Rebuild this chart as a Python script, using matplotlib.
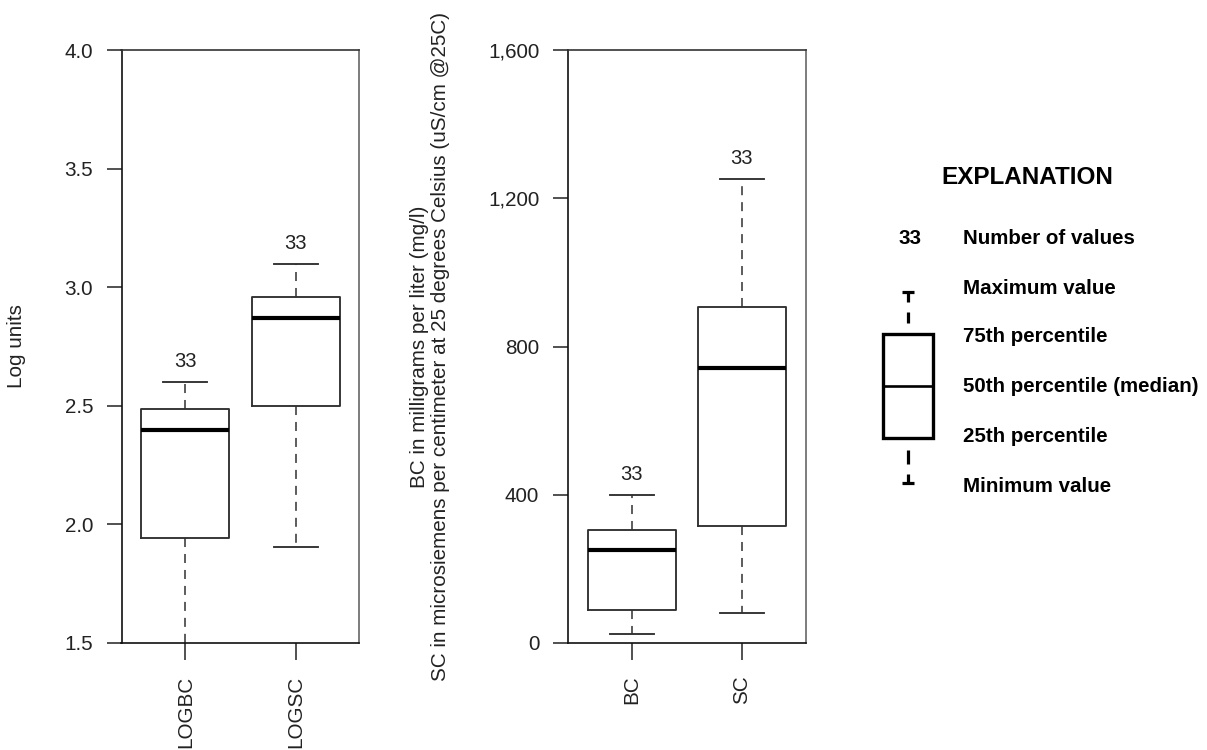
import matplotlib
matplotlib.use('Agg')
import matplotlib.pyplot as plt
from matplotlib.patches import Rectangle
from matplotlib.ticker import FuncFormatter

plt.rcParams['font.family'] = ['Liberation Sans', 'DejaVu Sans']
plt.rcParams['lines.scale_dashes'] = False

# ---------------- data (five-number summaries: min, q1, median, q3, max) ----
log_categories = ['LOGBC', 'LOGSC']
logbc_stats = [1.40, 1.944, 2.398, 2.485, 2.600]
logsc_stats = [1.906, 2.498, 2.869, 2.957, 3.097]
log_counts = [33, 33]
log_yticks = [1.5, 2.0, 2.5, 3.0, 3.5, 4.0]

conc_categories = ['BC', 'SC']
bc_stats = [25, 88, 251, 306, 398]
sc_stats = [81, 316, 742, 906, 1252]
conc_counts = [33, 33]
conc_yticks = [0, 400, 800, 1200, 1600]

legend_count = 33
legend_labels = ['Number of values', 'Maximum value', '75th percentile',
                 '50th percentile (median)', '25th percentile', 'Minimum value']

W, H = 1207, 750
fig = plt.figure(figsize=(W / 100, H / 100), dpi=100)


def to_stats(names, arrays):
    out = []
    for name, a in zip(names, arrays):
        out.append(dict(whislo=a[0], q1=a[1], med=a[2], q3=a[3], whishi=a[4],
                        label=name, fliers=[]))
    return out


FS = 14.9
edge = '#303030'


def panel(rect, names, arrays, counts, yticks, ylim, fmt, ylabel, label_x):
    ax = fig.add_axes(rect)
    stats = to_stats(names, arrays)
    ax.bxp(stats, positions=[1, 2], widths=0.8, capwidths=0.4,
           showfliers=False,
           boxprops=dict(color=edge, linewidth=1.35),
           medianprops=dict(color='black', linewidth=3.0, solid_capstyle='butt'),
           whiskerprops=dict(color=edge, linewidth=1.1, linestyle=(0, (6.5, 5))),
           capprops=dict(color=edge, linewidth=1.35))
    for pos, s, n in zip([1, 2], arrays, counts):
        ax.annotate(str(n), xy=(pos, s[4]), xytext=(0, 10.8),
                    textcoords='offset points', ha='center', va='baseline',
                    fontsize=FS - 0.4, color='#222222')
    ax.set_xlim(0.42, 2.58)
    ax.set_ylim(*ylim)
    ax.set_yticks(yticks)
    ax.yaxis.set_major_formatter(FuncFormatter(fmt))
    ax.set_xticks([1, 2])
    ax.set_xticklabels(names, rotation=90)
    ax.tick_params(axis='y', direction='out', length=11, width=1.1, pad=9.5,
                   labelsize=FS, colors='#222222')
    ax.tick_params(axis='x', direction='out', length=12, width=1.1, pad=11.5,
                   labelsize=FS, colors='#222222')
    ax.spines['left'].set_color('#111111')
    ax.spines['bottom'].set_color('#111111')
    ax.spines['top'].set_color('#333333')
    ax.spines['right'].set_color('#666666')
    for sp in ax.spines.values():
        sp.set_linewidth(1.2)
    ax.set_ylabel(ylabel, fontsize=FS, color='#222222', linespacing=1.12)
    ax.yaxis.set_label_coords(label_x, 0.5)
    return ax


ax_top = 50
ax_bot = 643
rect_h = (ax_bot - ax_top) / H
rect_y = (H - ax_bot) / H

panel([121.5 / W, rect_y, 238 / W, rect_h], log_categories,
      [logbc_stats, logsc_stats], log_counts, log_yticks, (1.5, 4.0),
      lambda v, p: f'{v:.1f}', 'Log units', -0.40)

panel([567.7 / W, rect_y, 238 / W, rect_h], conc_categories,
      [bc_stats, sc_stats], conc_counts, conc_yticks, (0, 1600),
      lambda v, p: f'{int(v):,}',
      'BC in milligrams per liter (mg/l)\n'
      'SC in microsiemens per centimeter at 25 degrees Celsius (uS/cm @25C)',
      -0.494)

# ---------------- explanation (legend) ----------------
lg = fig.add_axes([0, 0, 1, 1])
lg.set_xlim(0, W)
lg.set_ylim(H, 0)
lg.set_axis_off()
lg.patch.set_visible(False)

lg.text(1027, 178, 'EXPLANATION', ha='center', va='center',
        fontsize=17.5, fontweight='bold')
row_y = [239, 288, 337, 387, 437, 486]
for y, lab in zip(row_y, legend_labels):
    lg.text(963, y, lab, ha='left', va='center', fontsize=14.8,
            fontweight='bold')
lg.text(910, row_y[0], str(legend_count), ha='center', va='center',
        fontsize=14.8, fontweight='bold')

cx = 908
lg.add_patch(Rectangle((883, 334), 50, 104, fill=False, lw=2.4,
                       edgecolor='black'))
lg.plot([883, 933], [386, 386], color='black', lw=1.9)
# top whisker
lg.plot([902, 914], [292, 292], color='black', lw=2.3, solid_capstyle='butt')
lg.plot([cx, cx], [292, 302], color='black', lw=2.3, solid_capstyle='butt')
lg.plot([cx, cx], [312, 323], color='black', lw=2.3, solid_capstyle='butt')
# bottom whisker
lg.plot([cx, cx], [450, 464], color='black', lw=2.3, solid_capstyle='butt')
lg.plot([cx, cx], [474, 483], color='black', lw=2.3, solid_capstyle='butt')
lg.plot([902, 914], [483, 483], color='black', lw=2.3, solid_capstyle='butt')

fig.savefig('out.png', dpi=100)
